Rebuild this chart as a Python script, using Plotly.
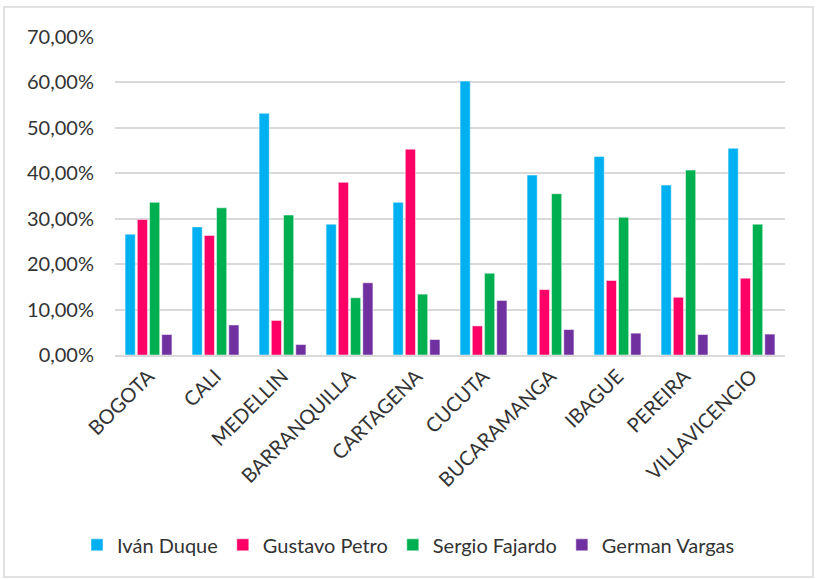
import plotly.graph_objects as go

cities = ["BOGOTA", "CALI", "MEDELLIN", "BARRANQUILLA", "CARTAGENA", "CUCUTA",
          "BUCARAMANGA", "IBAGUE", "PEREIRA", "VILLAVICENCIO"]
duque = [0.266, 0.282, 0.532, 0.288, 0.336, 0.603, 0.396, 0.437, 0.374, 0.455]
petro = [0.298, 0.263, 0.076, 0.380, 0.453, 0.064, 0.144, 0.164, 0.127, 0.169]
fajardo = [0.336, 0.324, 0.308, 0.126, 0.134, 0.180, 0.355, 0.303, 0.407, 0.288]
vargas = [0.045, 0.066, 0.023, 0.159, 0.034, 0.120, 0.056, 0.048, 0.045, 0.046]

series = [
    ("Iván Duque", duque, "#00B0F0"),
    ("Gustavo Petro", petro, "#FF0066"),
    ("Sergio Fajardo", fajardo, "#00B050"),
    ("German Vargas", vargas, "#7030A0"),
]

FONT = "Lato, Calibri, Carlito, sans-serif"
TEXT = "#333333"

fig = go.Figure()
for name, vals, color in series:
    fig.add_trace(go.Bar(
        x=cities, y=vals, name=name,
        marker=dict(color=color, line=dict(color="rgba(255,255,255,0.6)", width=0.8)),
    ))

fig.update_layout(
    width=817, height=579,
    margin=dict(l=115, r=32, t=37, b=224),
    paper_bgcolor="white", plot_bgcolor="white",
    separators=",.",
    barmode="group",
    bargap=0.27, bargroupgap=0.17,
    font=dict(family=FONT, size=20, color=TEXT),
    showlegend=True,
    legend=dict(
        orientation="h", xref="container", yref="container",
        x=0.5, xanchor="center", y=0.059, yanchor="middle",
        font=dict(family=FONT, size=20, color=TEXT),
        itemwidth=30, traceorder="normal",
        bgcolor="rgba(0,0,0,0)",
    ),
    shapes=[dict(
        type="rect", xref="paper", yref="paper",
        x0=-0.1657, x1=1.0418, y0=-0.698, y1=1.0943,
        line=dict(color="#d9d9d9", width=1.5), fillcolor="rgba(0,0,0,0)",
        layer="below",
    )],
)

fig.update_yaxes(
    range=[0, 0.70], dtick=0.10, tickformat=".2%",
    showgrid=True, gridcolor="#d9d9d9", gridwidth=1.5,
    zeroline=False, showline=False, ticks="",
    ticklabelstandoff=20,
    tickfont=dict(family=FONT, size=20, color=TEXT),
)
fig.update_xaxes(
    tickangle=-45, showline=True, linecolor="#d9d9d9", linewidth=1.5,
    ticks="", showgrid=False,
    tickfont=dict(family=FONT, size=20, color=TEXT),
)

fig.write_html(
    "out.html",
    config={"displayModeBar": False},
    post_script="document.body.style.margin='0';document.body.style.overflow='hidden';",
)
